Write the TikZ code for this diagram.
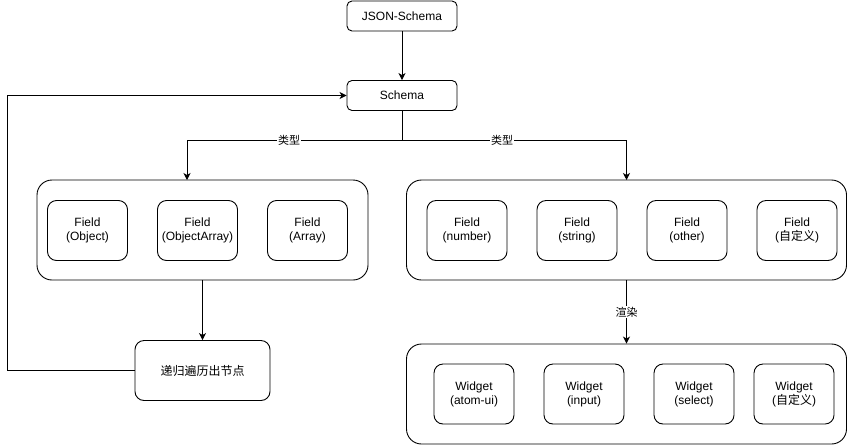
\documentclass[tikz,border=0pt]{standalone}
\usepackage{fontspec}
\setmainfont{Liberation Sans}
\newfontfamily\cjk{Noto Sans CJK SC}
\usetikzlibrary{arrows.meta}
\begin{document}
\begin{tikzpicture}[x=1pt,y=-1pt,
  box/.style={draw=black,line width=0.9pt,rounded corners=5pt,fill=white,minimum width=110pt,minimum height=30pt,inner sep=0pt,font=\fontsize{12}{14}\selectfont,align=center},
  inner/.style={draw=black,line width=0.9pt,rounded corners=9pt,fill=white,minimum width=80pt,minimum height=60pt,inner sep=0pt,font=\fontsize{12}{14}\selectfont,align=center},
  group/.style={draw=black,line width=0.9pt,rounded corners=15pt,fill=white,minimum height=100pt,inner sep=0pt},
  conn/.style={draw=black,line width=0.9pt},
  arr/.style={conn,-{Stealth[length=7pt,width=7pt,inset=2pt]}},
  elabel/.style={fill=white,inner sep=1pt,font=\cjk\fontsize{11}{13}\selectfont}]
\useasboundingbox (0,0) rectangle (848,445);
\node[box] (json) at (402,16) {JSON-Schema};
\node[box] (schema) at (402,95.5) {Schema};
\node[group,minimum width=331pt] (lg) at (202.5,230) {};
\node[group,minimum width=440pt] (rg) at (626.5,230) {};
\node[group,minimum width=440pt] (bg) at (626.5,394) {};
\node[inner] (f1) at (87.5,230.5) {Field\\(Object)};
\node[inner] (f2) at (197.5,230.5) {Field\\(ObjectArray)};
\node[inner] (f3) at (307.5,230.5) {Field\\(Array)};
\node[inner] (f4) at (467,230.5) {Field\\(number)};
\node[inner] (f5) at (577,230.5) {Field\\(string)};
\node[inner] (f6) at (687,230.5) {Field\\(other)};
\node[inner] (f7) at (797,230.5) {Field\\({\cjk 自定义})};
\node[inner] (w1) at (474,394) {Widget\\(atom-ui)};
\node[inner] (w2) at (584,394) {Widget\\(input)};
\node[inner] (w3) at (694,394) {Widget\\(select)};
\node[inner] (w4) at (794,394) {Widget\\({\cjk 自定义})};
\node[inner,minimum width=135pt,font=\cjk\fontsize{12}{14}\selectfont] (rec) at (202.5,370.5) {递归遍历出节点};
\coordinate (split) at (402,140);
\coordinate (lt) at (187,180);
\coordinate (rt) at (626.5,180);
\coordinate (loop) at (7,370.5);
\draw[arr] (json.south) -- (schema.north);
\draw[arr] (schema.south) -- (split) -| (lt);
\draw[arr] (split) -| (rt);
\node[elabel] at (289,140) {类型};
\node[elabel] at (502,140) {类型};
\draw[arr] (lg.south -| rec.north) -- (rec.north);
\draw[arr] (rec.west) -- (loop) |- (schema.west);
\draw[arr] (rg.south) -- node[elabel,pos=0.5]{渲染} (bg.north);
\end{tikzpicture}
\end{document}
